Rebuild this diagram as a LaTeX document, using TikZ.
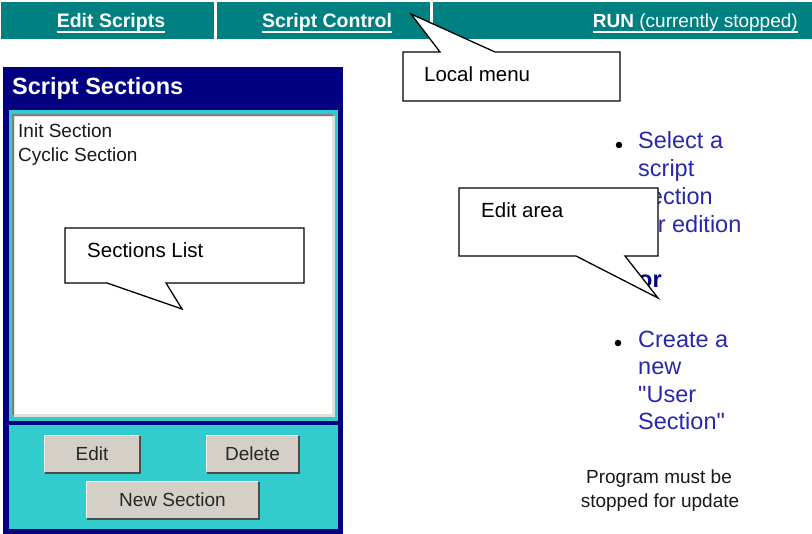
\documentclass[tikz,border=0pt]{standalone}
\usepackage{fontspec}
\setmainfont{Liberation Sans}
\newfontfamily\qfont{Liberation Sans}[Ligatures=TeXOff]
\definecolor{barteal}{RGB}{0,128,128}
\definecolor{navyp}{RGB}{0,0,128}
\definecolor{cyanp}{RGB}{51,204,204}
\definecolor{btngrey}{RGB}{212,208,200}
\definecolor{linkblue}{RGB}{40,40,170}
\definecolor{bevdark}{RGB}{128,128,128}
\definecolor{bevlight}{RGB}{225,225,220}
\newcommand{\uibutton}[4]{%
  \node[btn, minimum width=#3] (#1) at #2 {#4};
  \draw[line width=2pt, black!70] ([xshift=1pt]#1.north east) -- ([xshift=1pt,yshift=-1pt]#1.south east) -- ([yshift=-1pt]#1.south west);
  \draw[line width=1pt, white] (#1.south west) -- (#1.north west) -- (#1.north east);
}
\begin{document}
\begin{tikzpicture}[x=1pt,y=-1pt,
  bartext/.style={font=\fontsize{19.5}{23}\selectfont\bfseries, text=white, inner sep=0pt},
  uline/.style={white, line width=1.2pt},
  listtext/.style={font=\fontsize{19}{23}\selectfont, text=black!90, inner sep=0pt, anchor=base west},
  btn/.style={fill=btngrey, draw=none, minimum height=36pt, inner sep=0pt, font=\fontsize{19}{23}\selectfont, text=black!85},
  callout/.style={fill=white, draw=black, line width=1.3pt, line join=miter},
  calltext/.style={font=\fontsize{20.5}{24}\selectfont, text=black, inner sep=0pt, anchor=base west},
  bluetext/.style={font=\fontsize{23.5}{28}\selectfont, text=linkblue, inner sep=0pt, anchor=base west},
  bulletdot/.style={circle, fill=black, inner sep=0pt, minimum size=6.5pt},
  smalltext/.style={font=\fontsize{19}{22}\selectfont, text=black!90, inner sep=0pt, anchor=base}
]
\useasboundingbox (0,0) rectangle (812,534);
\fill[white] (0,0) rectangle (812,534);

% top menu bar
\fill[barteal] (1,2) rectangle (214,39);
\fill[barteal] (217,2) rectangle (430,39);
\fill[barteal] (433,2) rectangle (812,39);
\node[bartext, anchor=base] (es) at (111,28) {Edit Scripts};
\draw[uline] ([yshift=-4pt]es.base west) -- ([yshift=-4pt]es.base east);
\node[bartext, anchor=base] (sc) at (327,28) {Script Control};
\draw[uline] ([yshift=-4pt]sc.base west) -- ([yshift=-4pt]sc.base east);
\node[bartext, anchor=base east, font=\fontsize{19}{22}\selectfont] (run) at (798,28) {\textbf{RUN} (currently stopped)};
\draw[uline] ([yshift=-4pt]run.base west) -- ([yshift=-4pt]run.base east);

% Script Sections panel
\fill[navyp] (3,67) rectangle (343,534);
\node[font=\fontsize{23.5}{28}\selectfont\bfseries, text=white, inner sep=0pt, anchor=base west] (ssh) at (12,95) {Script Sections};
\fill[cyanp] (9,110) rectangle (338,421);
\fill[bevdark] (12,114) rectangle (333,415);
\fill[bevlight] (14,116) rectangle (335,417);
\fill[white] (15,117) rectangle (332,414);
\node[listtext] (init) at (18,138) {Init Section};
\node[listtext] (cyc) at (18,162) {Cyclic Section};
\fill[cyanp] (9,425) rectangle (338,529);

% buttons
\uibutton{edit}{(92,454)}{94pt}{Edit}
\uibutton{del}{(252.5,454)}{91pt}{Delete}
\uibutton{newsec}{(172.5,500)}{171pt}{New Section}

% right side edit area content
\node[bulletdot] (b1) at (619,145) {};
\node[bluetext] (s1) at (638,149) {Select a};
\node[bluetext] (s2) at (638,177) {script};
\node[bluetext] (s3) at (638,205) {section};
\node[bluetext] (s4) at (638,233) {for edition};
\node[bluetext, font=\fontsize{23.5}{28}\selectfont\bfseries, text=navyp] (orw) at (638,288) {or};
\node[bulletdot] (b2) at (618,343) {};
\node[bluetext] (c1) at (638,348) {Create a};
\node[bluetext] (c2) at (638,375) {new};
\node[bluetext] (c3) at (638,403) {{\qfont"}User};
\node[bluetext] (c4) at (638,430) {Section{\qfont"}};
\node[smalltext] (p1) at (659,484) {Program must be};
\node[smalltext] (p2) at (660,508) {stopped for update};

% callouts
\draw[callout] (403,52) -- (440,52) -- (411,14) -- (495,52) -- (620,52) -- (620,101) -- (403,101) -- cycle;
\node[calltext] (lm) at (424,82) {Local menu};

\draw[callout] (65,228) -- (304,228) -- (304,283) -- (166,283) -- (182,309) -- (107,283) -- (65,283) -- cycle;
\node[calltext] (sl) at (87,258) {Sections List};

\draw[callout] (459,188) -- (658,188) -- (658,256) -- (625,256) -- (658,298) -- (576,256) -- (459,256) -- cycle;
\node[calltext] (ea) at (481,218) {Edit area};
\end{tikzpicture}
\end{document}
